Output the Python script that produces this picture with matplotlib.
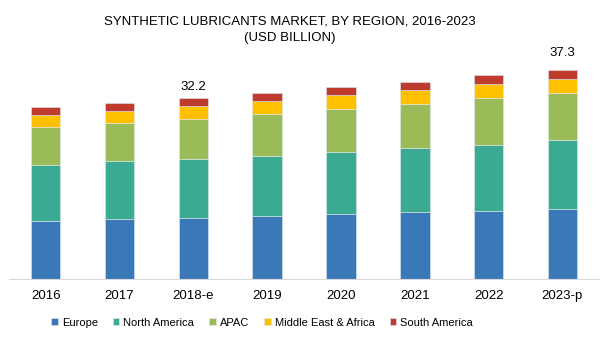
import matplotlib.pyplot as plt
import numpy as np

years = ['2016', '2017', '2018-e', '2019', '2020', '2021', '2022', '2023-p']
regions = ['Europe', 'North America', 'APAC', 'Middle East & Africa', 'South America']

europe = [10.4, 10.8, 11.0, 11.3, 11.7, 11.9, 12.2, 12.6]
north_america = [10.0, 10.2, 10.5, 10.7, 11.0, 11.4, 11.8, 12.2]
apac = [6.8, 6.9, 7.1, 7.5, 7.7, 8.0, 8.2, 8.3]
mea = [2.0, 2.1, 2.2, 2.3, 2.4, 2.4, 2.6, 2.6]
south_america = [1.4, 1.4, 1.4, 1.4, 1.5, 1.5, 1.5, 1.6]

total_labels = {2: '32.2', 7: '37.3'}

colors = ['#3A78B8', '#3AAA92', '#9BBB59', '#FFC000', '#BE3B2E']

plt.rcParams['font.family'] = ['Liberation Sans', 'DejaVu Sans']

fig = plt.figure(figsize=(6.11, 3.56), dpi=100)
ax = fig.add_axes([8.8 / 611, 76.7 / 356, 590.5 / 611, 224.6 / 356])

x = np.arange(len(years))
series = [europe, north_america, apac, mea, south_america]
bottom = np.zeros(len(years))
for name, vals, c in zip(regions, series, colors):
    ax.bar(x, vals, 0.4, bottom=bottom, color=c, label=name,
           edgecolor='#dde8ee', linewidth=0.4)
    bottom += np.array(vals)

for i, txt in total_labels.items():
    ax.annotate(txt, (x[i], bottom[i]), xytext=(0, 4 if i == 2 else 8),
                textcoords='offset points', ha='center', va='bottom', fontsize=9.5)

ax.set_xlim(-0.5, len(years) - 0.5)
ax.set_ylim(0, 40)
ax.set_xticks(x)
ax.set_xticklabels(years, fontsize=9.5)
ax.tick_params(axis='x', length=0, pad=8)
ax.set_yticks([])
for s in ['top', 'right', 'left']:
    ax.spines[s].set_visible(False)
ax.spines['bottom'].set_color('#d9d9d9')

fig.text(0.475, 0.916, 'SYNTHETIC LUBRICANTS MARKET, BY REGION, 2016-2023\n(USD BILLION)',
         ha='center', va='center', fontsize=9.5, linespacing=1.45)

ax.legend(loc='center', bbox_to_anchor=(262 / 611, 33.5 / 356), bbox_transform=fig.transFigure,
          ncol=5, frameon=False, fontsize=8, handlelength=0.6, handleheight=0.6,
          handletextpad=0.35, columnspacing=1.35)

fig.savefig('out.png', dpi=100)
